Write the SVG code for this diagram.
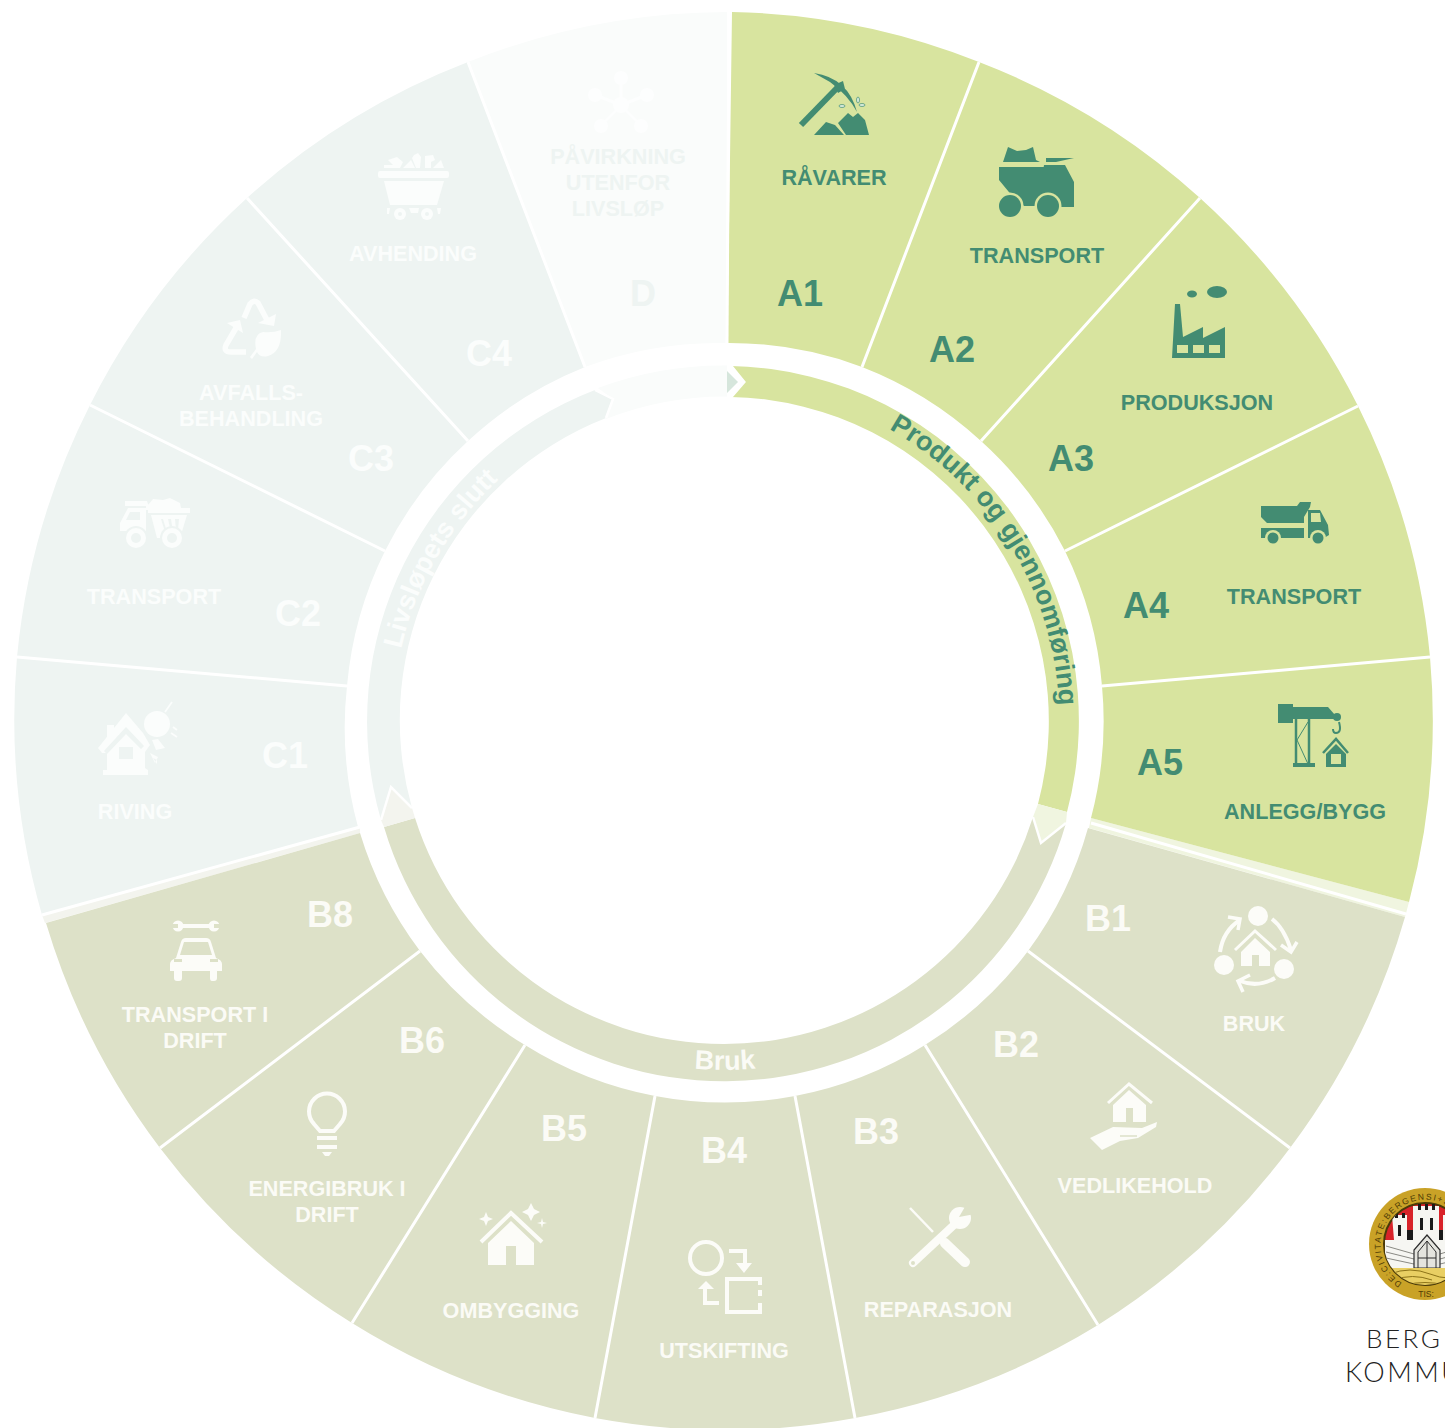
<svg xmlns="http://www.w3.org/2000/svg" width="1445" height="1428" viewBox="0 0 1445 1428">
<style>
text{font-family:"Liberation Sans",Arial,sans-serif;font-weight:700;text-anchor:middle}
.l{font-size:21.6px}.c{font-size:36px}.r{font-size:27px}
.st{text-anchor:start}
.a{fill:#d8e49f}.b{fill:#dde1c8}.cc{fill:#eef4f2}.d{fill:#fafcfb}
.ta{fill:#438c72}.tb{fill:#fbfbf6}.tc{fill:#fbfdfc}.td{fill:#eef4f2}
.ia{fill:#438c72}.ib{fill:#fcfcf8}.ic{fill:#fbfdfc}
.sb{fill:none;stroke:#fcfcf8}.sc{fill:none;stroke:#fbfdfc}
.div{stroke:#fff;stroke-width:3;fill:none}
.chev{fill:none;stroke:#fff}
</style>
<defs>
<path id="pA" d="M889,429 A334,334 0 0 1 1058,750"/>
<path id="pC" d="M401,649 A331,331 0 0 1 530,454"/>
<path id="pB" d="M500,988 A350,350 0 0 0 950,988"/>
<path id="pS" d="M1402,1283 A45,45 0 1 1 1465,1223"/>
<clipPath id="sealClip"><circle cx="1425" cy="1244" r="41"/></clipPath>
</defs>
<rect width="1445" height="1428" fill="#fff"/>

<g id="ring">
<path class="d" d="M598,388 A355,355 0 0 1 727,365.5 L727,396.5 A324,324 0 0 0 606,419 L613,399Z"/>
<path fill="#d6e6dc" d="M727,371 L738,382 L727,393Z"/>
<path class="cc" d="M381,820 A355,355 0 0 1 595,390 L613,399 L606,418 A324,324 0 0 0 412,808 L391,787Z"/>
<path class="a" d="M731,366 A355,355 0 0 1 1067,812 L1038,804 A324,324 0 0 0 731,397 L745,382Z"/>
<path class="b" d="M384,827 A355,355 0 0 0 1066,823 L1041,843 L1033,817 A324,324 0 0 1 415,818Z"/>
<path fill="#f0f5e0" d="M1038,804 L1067,812 L1066,823 L1041,843 L1033,817Z"/>
<path fill="#f3f4ee" d="M384,827 L415,818 L412,808 L391,787 L381,820Z"/>
<path class="chev" stroke-width="3" d="M731,366 L744,382 L731,397"/>
<path class="chev" stroke-width="2.5" d="M1033,817 L1041,843 L1066,823"/>
<path class="chev" stroke-width="2.5" d="M381,820 L391,787 L412,808"/>
<path class="chev" stroke-width="2.5" d="M595,390 L613,399 L606,418"/>
<text class="r ta st"><textPath href="#pA">Produkt og gjennomføring</textPath></text>
<text class="r tc st"><textPath href="#pC">Livsløpets slutt</textPath></text>
<text class="r tb"><textPath href="#pB" startOffset="50%">Bruk</textPath></text>
</g>

<g id="bands">
<path fill="#f0f5e0" d="M1409,902 L1091,818 L1089,828 L1405,917Z"/>
<path fill="#f3f4ee" d="M42,915 L360,827 L360,833 L45,923Z"/>
</g>

<g id="D">
<path class="d" d="M468,62 A708,708 0 0 1 727,12 L727,343 A378,378 0 0 0 585,367Z"/>
<g fill="#fdfefe"><circle cx="621" cy="105" r="8"/><circle cx="621" cy="78" r="7"/><circle cx="595" cy="95" r="7"/><circle cx="647" cy="95" r="7"/><circle cx="601" cy="126" r="7"/><circle cx="641" cy="126" r="7"/></g>
<path stroke="#fdfefe" stroke-width="3" fill="none" d="M621,105 V78 M621,105 L595,95 M621,105 L647,95 M621,105 L601,126 M621,105 L641,126"/>
<text class="l td" x="618" y="164">PÅVIRKNING</text><text class="l td" x="618" y="190">UTENFOR</text><text class="l td" x="618" y="216">LIVSLØP</text>
<text class="c td" x="643" y="306">D</text>
</g>

<g id="C4">
<path class="cc" d="M247,198 A708,708 0 0 1 468,62 L585,367 A378,378 0 0 0 468,441Z"/>
<path class="ic" d="M378,173 Q378,171 380,171 H447 Q449,171 449,173 V176 Q449,178 447,178 H380 Q378,178 378,176Z M384,181 H444 L437,205 H390Z M384,168 V165 H393 L388,160 L397,157 L403,162 L400,168Z M403,168 L411,160 L415,168Z M412,158 L414,155 L418,153 L421,157 L420,168 H416Z M425,156 L433,155 L435,160 L431,162 L431,168 H425Z M433,168 L441,160 L444,168Z M409,208 H419 L418,213 H411Z M387,208 H390 L389,214 H387Z M437,208 H441 L440,214 H438Z"/>
<circle class="ic" cx="400" cy="214" r="6"/><circle class="ic" cx="427" cy="214" r="6"/>
<circle cx="400" cy="214" r="2" fill="#eef4f2"/><circle cx="427" cy="214" r="2" fill="#eef4f2"/>
<text class="l tc" x="413" y="261">AVHENDING</text>
<text class="c tc" x="489" y="366">C4</text>
</g>

<g id="C3">
<path class="cc" d="M90,405 A708,708 0 0 1 247,198 L468,441 A378,378 0 0 0 385,551Z"/>
<path class="sc" stroke-width="5.5" d="M244,318 L250,304 Q254,299 258,303 L267,320"/>
<path class="ic" d="M274,326 L258,323 L276,314Z M240,320 L227,323 L243,333Z"/>
<path class="sc" stroke-width="5.5" d="M236,328 L226,345 Q223,352 231,352 H246"/>
<path class="ic" d="M281,330 Q282,352 268,356 Q260,358 257,352 L252,359 L250,357 L256,349 Q253,334 263,332 Q273,333 281,330Z"/>
<text class="l tc" x="251" y="400">AVFALLS-</text><text class="l tc" x="251" y="426">BEHANDLING</text>
<text class="c tc" x="371" y="471">C3</text>
</g>

<g id="C2">
<path class="cc" d="M17,657 A708,708 0 0 1 90,405 L385,551 A378,378 0 0 0 347,686Z"/>
<path class="ic" d="M125,501 H147 L150,510 L146,510 V531 H120 V523 L128,508 H146 L146,506 H125Z M148,505 L153,499 L163,500 L170,498 L180,503 L181,508 H190 V513 H148Z M151,515 H187 L180,538 H157Z"/>
<path fill="#eef4f2" d="M126,520 L130,512 H140 V520Z M161,519 L165,532 H167 L163,519Z M168,519 L171,532 H173 L171,519Z M175,519 L176,530 H178 L179,519Z"/>
<circle cx="136" cy="538" r="12" fill="#eef4f2"/><circle cx="172" cy="538" r="12" fill="#eef4f2"/>
<circle class="ic" cx="136" cy="538" r="10"/><circle class="ic" cx="172" cy="538" r="10"/>
<circle cx="136" cy="538" r="5" fill="#eef4f2"/><circle cx="172" cy="538" r="5" fill="#eef4f2"/>
<text class="l tc" x="154" y="604">TRANSPORT</text>
<text class="c tc" x="298" y="626">C2</text>
</g>

<g id="C1">
<path class="cc" d="M42,915 A708,708 0 0 1 17,657 L347,686 A378,378 0 0 0 358,827Z"/>
<path class="ic" d="M98,748 L126,713 L143,733 L150,745 L145,752 L145,768 L148,770 V775 H103 V770 H107 V753 L102,753Z M107,725 H114 V732 L107,739Z M152,740 L158,739 L165,748 L156,750Z M150,753 L155,763 L158,757Z M153,758 L157,760 L157,764Z"/>
<path fill="#eef4f2" d="M119,747 H133 V759 H119Z M104,751 L107,754 L126,734 L141,749 L144,746 L126,727Z"/>
<circle class="ic" cx="157" cy="724" r="13"/>
<path class="sc" stroke-width="1.8" d="M165,712 L172,702 M173,727 L177,730 M171,733 L177,737"/>
<text class="l tc" x="135" y="819">RIVING</text>
<text class="c tc" x="285" y="768">C1</text>
</g>

<g id="B8">
<path class="b" d="M160,1148 A708,708 0 0 1 46,923 L360,833 A378,378 0 0 0 420,951Z"/>
<path class="ib" d="M178,924 H214 V928 H178Z"/>
<circle class="ib" cx="178" cy="926" r="5.5"/><circle class="ib" cx="214" cy="926" r="5.5"/>
<path fill="#dde1c8" d="M171,924 H178 V928 H171Z M214,924 H221 V928 H214Z"/>
<path class="ib" d="M176,958 L181,942 Q182,938 186,938 H206 Q210,938 211,942 L216,958 Q222,960 222,964 V971 H217 V978 Q217,981 214,981 H212 Q210,981 210,978 V971 H182 V978 Q182,981 179,981 H177 Q174,981 174,978 V971 H170 V964 Q170,960 176,958Z"/>
<path fill="#dde1c8" d="M180,955 L184,942 H208 L212,955Z M174,959 H182 V962 H174Z M210,959 H218 V962 H210Z"/>
<text class="l tb" x="195" y="1022">TRANSPORT I</text><text class="l tb" x="195" y="1048">DRIFT</text>
<text class="c tb" x="330" y="927">B8</text>
</g>

<g id="B6">
<path class="b" d="M352,1323 A708,708 0 0 1 160,1148 L420,951 A378,378 0 0 0 525,1045Z"/>
<path class="sb" stroke-width="4" d="M320,1131 L314,1124 A18,18 0 1 1 340,1124 L334,1131Z"/>
<path class="ib" d="M317,1136 H337 V1140 H317Z M317,1145 H337 V1149 H317Z M322,1152 H332 L329,1156 H325Z"/>
<text class="l tb" x="327" y="1196">ENERGIBRUK I</text><text class="l tb" x="327" y="1222">DRIFT</text>
<text class="c tb" x="422" y="1053">B6</text>
</g>

<g id="B5">
<path class="b" d="M595,1418 A708,708 0 0 1 352,1323 L525,1045 A378,378 0 0 0 655,1096Z"/>
<path class="sb" stroke-width="4" d="M481,1242 L511,1213 L542,1242"/>
<path class="ib" d="M488,1243 L511,1221 L534,1243 V1265 H516 V1246 H506 V1265 H488Z"/>
<path class="ib" d="M486,1212 L488,1217 L493,1219 L488,1221 L486,1226 L484,1221 L479,1219 L484,1217Z M531,1203 L534,1209 L540,1212 L534,1215 L531,1221 L528,1215 L522,1212 L528,1209Z M542,1218 L543,1222 L547,1223 L543,1224 L542,1228 L541,1224 L537,1223 L541,1222Z"/>
<text class="l tb" x="511" y="1318">OMBYGGING</text>
<text class="c tb" x="564" y="1141">B5</text>
</g>

<g id="B4">
<path class="b" d="M855,1418 A708,708 0 0 1 595,1418 L655,1096 A378,378 0 0 0 795,1096Z"/>
<circle class="sb" stroke-width="4" cx="706" cy="1258" r="16"/>
<path class="sb" stroke-width="4" d="M729,1251 H745 V1266 M719,1303 H705 V1288 M760,1285 V1279 H727 V1312 H760 V1303 M760,1290 V1296"/>
<path class="ib" d="M736,1263 H752 L744,1273Z M698,1289 L706,1281 L714,1289Z"/>
<text class="l tb" x="724" y="1358">UTSKIFTING</text>
<text class="c tb" x="724" y="1163">B4</text>
</g>

<g id="B3">
<path class="b" d="M1098,1325 A708,708 0 0 1 855,1418 L795,1096 A378,378 0 0 0 925,1045Z"/>
<path class="sb" stroke-width="2.5" d="M910,1208 L933,1232"/>
<path class="sb" stroke-width="10" stroke-linecap="round" d="M945,1243 L965,1262"/>
<path class="sb" stroke-width="8" stroke-linecap="round" d="M913,1263 L955,1224"/>
<circle class="ib" cx="960" cy="1218" r="11"/>
<path fill="#dde1c8" d="M959,1217 L966,1205 L975,1214 Z"/><circle cx="913" cy="1263" r="2" fill="#dde1c8"/>
<text class="l tb" x="938" y="1317">REPARASJON</text>
<text class="c tb" x="876" y="1144">B3</text>
</g>

<g id="B2">
<path class="b" d="M1290,1148 A708,708 0 0 1 1098,1325 L925,1045 A378,378 0 0 0 1028,951Z"/>
<path class="sb" stroke-width="3" d="M1108,1103 L1129,1084 L1152,1103"/>
<path class="ib" d="M1113,1105 L1129,1090 L1146,1105 V1122 H1133 V1108 H1126 V1122 H1113Z M1090,1138 L1113,1127 L1142,1128 L1157,1122 L1156,1127 L1138,1138 L1120,1141 L1102,1150Z"/>
<path stroke="#dde1c8" stroke-width="1.5" d="M1120,1136 H1137"/>
<text class="l tb" x="1135" y="1193">VEDLIKEHOLD</text>
<text class="c tb" x="1016" y="1057">B2</text>
</g>

<g id="B1">
<path class="b" d="M1405,917 A708,708 0 0 1 1290,1148 L1028,951 A378,378 0 0 0 1088,828Z"/>
<circle class="ib" cx="1258" cy="916" r="10"/><circle class="ib" cx="1224" cy="965" r="10"/><circle class="ib" cx="1284" cy="969" r="10"/>
<path class="sb" stroke-width="4" d="M1220,952 Q1223,931 1240,920 M1272,919 Q1284,928 1291,950 M1275,978 Q1258,988 1240,981"/>
<path class="sb" stroke-width="3.5" d="M1228,917 L1240,919 L1238,930 M1281,945 L1291,952 L1297,942 M1250,975 L1238,981 L1243,992"/>
<path class="sb" stroke-width="3" d="M1235,950 L1255,931 L1276,950"/>
<path class="ib" d="M1241,952 L1255,938 L1270,952 V966 H1259 V955 H1252 V966 H1241Z"/>
<text class="l tb" x="1254" y="1031">BRUK</text>
<text class="c tb" x="1108" y="931">B1</text>
</g>

<g id="A5">
<path class="a" d="M1430,657 A708,708 0 0 1 1409,902 L1091,818 A378,378 0 0 0 1102,686Z"/>
<path class="ia" d="M1278,704 H1293 V707 H1328 L1335,715 V719 H1293 V723 H1278Z M1293,763 H1315 V767 H1293Z"/>
<circle class="ia" cx="1337" cy="717" r="4"/>
<path fill="none" stroke="#438c72" stroke-width="2" d="M1339,722 Q1342,733 1336,733 Q1333,733 1333,729"/>
<path fill="none" stroke="#438c72" stroke-width="2.5" d="M1296,719 V764 M1309,719 V764"/>
<path fill="none" stroke="#438c72" stroke-width="1" d="M1297,740 L1308,722 M1297,740 L1308,764"/>
<path fill="none" stroke="#438c72" stroke-width="2.5" d="M1323,753 L1336,739 L1348,753"/>
<path class="ia" d="M1326,754 L1336,744 L1346,754 V767 H1326Z"/>
<rect x="1331" y="754" width="10" height="10" fill="#d8e49f"/>
<text class="l ta" x="1305" y="819">ANLEGG/BYGG</text>
<text class="c ta" x="1160" y="775">A5</text>
</g>

<g id="A4">
<path class="a" d="M1358,406 A708,708 0 0 1 1430,657 L1102,686 A378,378 0 0 0 1065,551Z"/>
<path class="ia" d="M1261,506 H1297 L1300,502 H1311 L1310,507 L1304,517 V523 H1267 L1261,517Z M1261,528 H1304 V538 H1261Z M1308,510 H1320 L1328,525 L1329,535 L1324,538 H1308Z"/>
<path fill="#d8e49f" d="M1311,513 H1320 L1321,522 H1311Z"/>
<circle cx="1273" cy="538" r="8" fill="#d8e49f"/><circle cx="1318" cy="538" r="8" fill="#d8e49f"/>
<circle class="ia" cx="1273" cy="538" r="5.5"/><circle class="ia" cx="1318" cy="538" r="5.5"/>
<text class="l ta" x="1294" y="604">TRANSPORT</text>
<text class="c ta" x="1146" y="618">A4</text>
</g>

<g id="A3">
<path class="a" d="M1200,198 A708,708 0 0 1 1358,406 L1065,551 A378,378 0 0 0 981,441Z"/>
<ellipse class="ia" cx="1192" cy="294" rx="5" ry="3.5"/><ellipse class="ia" cx="1217" cy="292" rx="10" ry="6"/>
<path class="ia" d="M1172,358 L1175,304 H1180 L1183,337 L1203,327 V338 L1225,327 V358Z"/>
<path fill="#d8e49f" d="M1177,345 H1188 V353 H1177Z M1193,345 H1204 V353 H1193Z M1209,345 H1220 V353 H1209Z"/>
<text class="l ta" x="1197" y="410">PRODUKSJON</text>
<text class="c ta" x="1071" y="471">A3</text>
</g>

<g id="A2">
<path class="a" d="M979,62 A708,708 0 0 1 1200,198 L981,441 A378,378 0 0 0 862,367Z"/>
<path class="ia" d="M1003,162 L1008,147 L1017,151 L1026,150 L1033,147 L1036,160 L1040,162Z M999,167 H1044 V190 L1035,206 H1024 L1013,197 L999,180Z M1046,158 H1074 L1056,162 H1046Z M1044,165 H1065 L1074,182 V207 H1040 V190Z"/>
<circle cx="1048" cy="206" r="13.5" fill="#d8e49f"/><circle cx="1010" cy="206" r="13.5" fill="#d8e49f"/>
<circle cx="1010" cy="206" r="11" class="ia"/><circle cx="1048" cy="206" r="11" class="ia"/>
<text class="l ta" x="1037" y="263">TRANSPORT</text>
<text class="c ta" x="952" y="362">A2</text>
</g>

<g id="A1">
<path class="a" d="M732,12 A708,708 0 0 1 979,62 L862,367 A378,378 0 0 0 727.5,343Z"/>
<path fill="none" stroke="#438c72" stroke-width="6" d="M801,125 L837,88"/>
<path class="ia" d="M814,73 Q848,78 857,112 Q848,95 830,82Z M834,85 L843,81 L845,89 L838,93Z M814,135 L826,122 L835,125 L844,135Z M838,123 L848,113 L853,117 L858,113 L865,120 L869,135 L846,135Z"/>
<g fill="#d8ecdc" stroke="#438c72" stroke-width=".7"><ellipse cx="842" cy="106" rx="3" ry="1.5"/><ellipse cx="862" cy="105" rx="3" ry="1.5"/><ellipse cx="858" cy="100" rx="1.5" ry="3"/></g>
<text class="l ta" x="834" y="185">RÅVARER</text>
<text class="c ta" x="800" y="306">A1</text>
</g>

<g id="dividers" class="div">
<path d="M979,62 L862,367 M1200,198 L981,441 M1358,406 L1065,551 M1430,657 L1102,686"/>
<path d="M1091,823 L1406,914"/>
<path d="M1290,1148 L1028,951 M1098,1325 L925,1045 M855,1418 L795,1096 M595,1418 L655,1096 M352,1323 L525,1045 M160,1148 L420,951"/>
<path d="M42,915 L360,827"/>
<path d="M17,657 L347,686 M90,405 L385,551 M247,198 L468,441 M468,62 L585,367"/>
<path d="M729,12 L727,343"/>
</g>

<g id="logo">
<circle cx="1425" cy="1244" r="56" fill="#c9a227"/>
<circle cx="1425" cy="1244" r="41" fill="#d8232a" stroke="#4a3a08" stroke-width="2"/>
<g clip-path="url(#sealClip)">
<path fill="#f6f6f2" d="M1392,1215 H1407 V1240 H1413 V1206 H1439 V1240 H1443 V1215 H1460 V1268 H1385 V1240 H1394Z"/>
<path fill="#1a1a1a" d="M1395,1213 H1398 V1218 H1395Z M1402,1213 H1405 V1218 H1402Z M1418,1204 H1421 V1210 H1418Z M1425,1204 H1428 V1210 H1425Z M1432,1204 H1435 V1210 H1432Z M1398,1225 H1401 V1236 H1398Z M1420,1218 H1423 V1230 H1420Z M1430,1218 H1433 V1230 H1430Z M1407,1230 H1413 V1240 H1407Z M1439,1230 H1443 V1240 H1439Z"/>
<path fill="none" stroke="#8a8a84" stroke-width="1" d="M1386,1246 L1414,1254 M1386,1252 L1414,1259 M1386,1258 L1414,1264 M1440,1254 L1465,1246 M1440,1259 L1465,1252 M1440,1264 L1465,1258"/>
<path fill="#e4e4de" stroke="#2c2c2c" stroke-width="1.2" d="M1414,1268 V1250 L1427,1235 L1440,1250 V1268Z"/>
<path stroke="#2c2c2c" stroke-width="1" fill="none" d="M1418,1268 V1252 L1427,1241 L1436,1252 V1268 M1427,1241 V1268 M1418,1258 H1436"/>
<path fill="#e9cf63" d="M1380,1268 H1470 V1295 H1380Z"/>
<path stroke="#8c7318" stroke-width="1" fill="none" d="M1390,1274 Q1410,1266 1430,1274 T1465,1274 M1394,1280 Q1412,1273 1432,1280 M1405,1285 Q1425,1280 1445,1285"/>
</g>
<text font-size="8.5" fill="#4f3c05" style="font-weight:400;text-anchor:start;letter-spacing:1.5px"><textPath href="#pS">DE:CIVITATE:BERGENSI+SI</textPath></text>
<text x="1426" y="1297" font-size="8.5" fill="#4f3c05" style="font-weight:400">TIS:</text>
<text x="1366" y="1348" font-size="26" fill="#222" style="font-family:Lato,'Open Sans',sans-serif;font-weight:300;text-anchor:start;letter-spacing:2.5px">BERG</text>
<text x="1345" y="1382" font-size="27" fill="#222" style="font-family:Lato,'Open Sans',sans-serif;font-weight:300;text-anchor:start;letter-spacing:2.5px">KOMMU</text>
</g>
</svg>
